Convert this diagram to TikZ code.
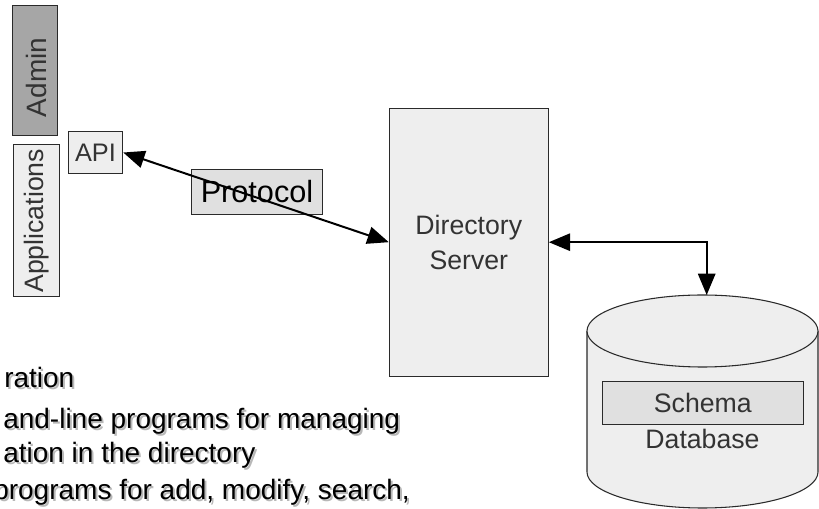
\documentclass[tikz,border=0pt]{standalone}
\usepackage{fontspec}
\setmainfont{Liberation Sans}
\usetikzlibrary{arrows.meta}
\definecolor{ink}{HTML}{333333}
\definecolor{boxline}{HTML}{2a2a2a}
\definecolor{lightfill}{HTML}{EEEEEE}
\definecolor{midfill}{HTML}{E0E0E0}
\definecolor{darkfill}{HTML}{A6A6A6}
\definecolor{shade}{HTML}{B8B8B8}
\tikzset{
  box/.style={draw=boxline, line width=0.8pt, inner sep=0pt, text=ink},
  link/.style={line width=1.5pt,
    {Triangle[length=16pt,width=13pt]}-{Triangle[length=16pt,width=13pt]}},
  body/.style={inner sep=0pt, anchor=base west, font=\fontsize{21}{25}\selectfont},
}
\begin{document}
\begin{tikzpicture}[x=0.75pt,y=-0.75pt]
\useasboundingbox (0,0) rectangle (819,509);
\clip (0,0) rectangle (819,509);

% client side: admin tools, applications and the API
\node[box, fill=darkfill, minimum width={45.4*0.75pt}, minimum height={129.3*0.75pt}] (admin) at (35,70.4) {};
\node[inner sep=0pt, rotate=90, text=ink, font=\fontsize{21}{25}\selectfont] (adminlabel) at (36,77.5) {Admin};
\node[box, fill=lightfill, rotate=90, minimum width={151.7*0.75pt}, minimum height={45.7*0.75pt},
      font=\fontsize{20}{24}\selectfont] (apps) at (36.2,220.8) {Applications};
\node[box, fill=lightfill, minimum width={54.4*0.75pt}, minimum height={41.6*0.75pt},
      font=\fontsize{19}{23}\selectfont] (api) at (95.5,152.5) {API};

% directory server
\node[box, fill=lightfill, minimum width={159*0.75pt}, minimum height={267.7*0.75pt},
      align=center, font=\fontsize{20}{26}\selectfont] (srv) at (468.8,242.2) {Directory\\Server};

% protocol label box sitting on the API--server link
\node[box, fill=midfill, minimum width={130.6*0.75pt}, minimum height={44.7*0.75pt}] (proto) at (257,191.7) {};
\draw[link] (api.east) -- (srv.west);
\node[inner sep=0pt, font=\fontsize{23}{27}\selectfont] (protolabel) at (proto) {Protocol};

% database cylinder
\draw[boxline, line width=0.8pt, fill=lightfill]
  (587,331) -- (587,472)
  .. controls (587,491.9) and (638.7,508) .. (702.5,508)
  .. controls (766.3,508) and (818,491.9) .. (818,472) -- (818,331);
\draw[boxline, line width=0.8pt, fill=lightfill] (702.5,331) ellipse [x radius=115.5, y radius=36];
\coordinate (dbtop) at (706.7,295);
\node[box, fill=midfill, minimum width={201*0.75pt}, minimum height={42.6*0.75pt},
      font=\fontsize{20}{24}\selectfont] (schema) at (702.8,403) {Schema};
\node[inner sep=0pt, text=ink, font=\fontsize{20}{24}\selectfont] (db) at (702.5,439) {Database};

% server--database link
\draw[link] (srv.east) -| (dbtop);

% bullet text with drop shadow
\node[body, text=shade] (t1s) at (6,390) {ration};
\node[body] (t1) at (4,388) {ration};
\node[body, text=shade] (t2s) at (5,431) {and-line programs for managing};
\node[body] (t2) at (3,429) {and-line programs for managing};
\node[body, text=shade] (t3s) at (5,465) {ation in the directory};
\node[body] (t3) at (3,463) {ation in the directory};
\node[body, text=shade] (t4s) at (-5,502) {programs for add, modify, search,};
\node[body] (t4) at (-7,500) {programs for add, modify, search,};
\end{tikzpicture}
\end{document}
